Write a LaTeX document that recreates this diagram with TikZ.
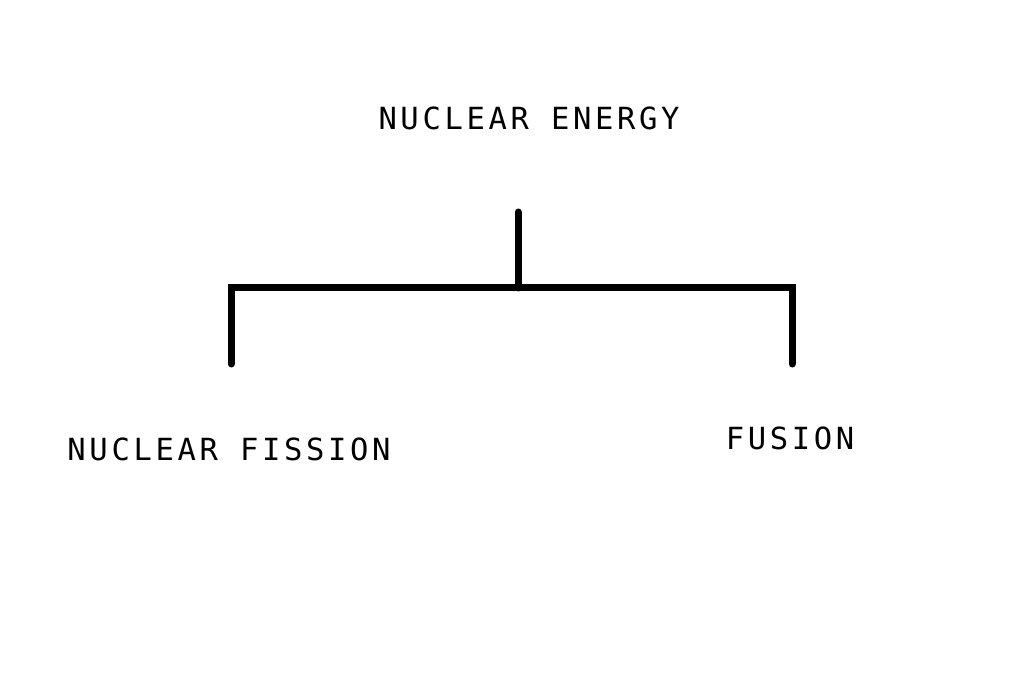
\documentclass[tikz,border=0pt]{standalone}
\usepackage{fontspec}
\setmonofont[LetterSpace=12]{DejaVu Sans Mono}
\usepackage{tikz}
\usetikzlibrary{positioning}

\begin{document}
\begin{tikzpicture}[x=1pt, y=1pt,
        label/.style={font=\ttfamily\fontsize{30.5}{36}\selectfont, inner sep=0pt, anchor=base},
        branch/.style={line width=7pt, line cap=round, line join=miter}
    ]
    \useasboundingbox (0,0) rectangle (1024,678);

    \node[label] (energy) at (529, 548) {NUCLEAR ENERGY};
    \node[label] (fission) at (229, 218) {NUCLEAR FISSION};
    \node[label] (fusion) at (790, 229) {FUSION};

    \coordinate (stem) at (518, 466);
    \coordinate (join) at (518, 390);
    \coordinate (leftend) at (231, 314);
    \coordinate (rightend) at (792, 314);

    \draw[branch] (stem) -- (join);
    \draw[branch] (leftend) |- (join) -| (rightend);

    \end{tikzpicture}
\end{document}
